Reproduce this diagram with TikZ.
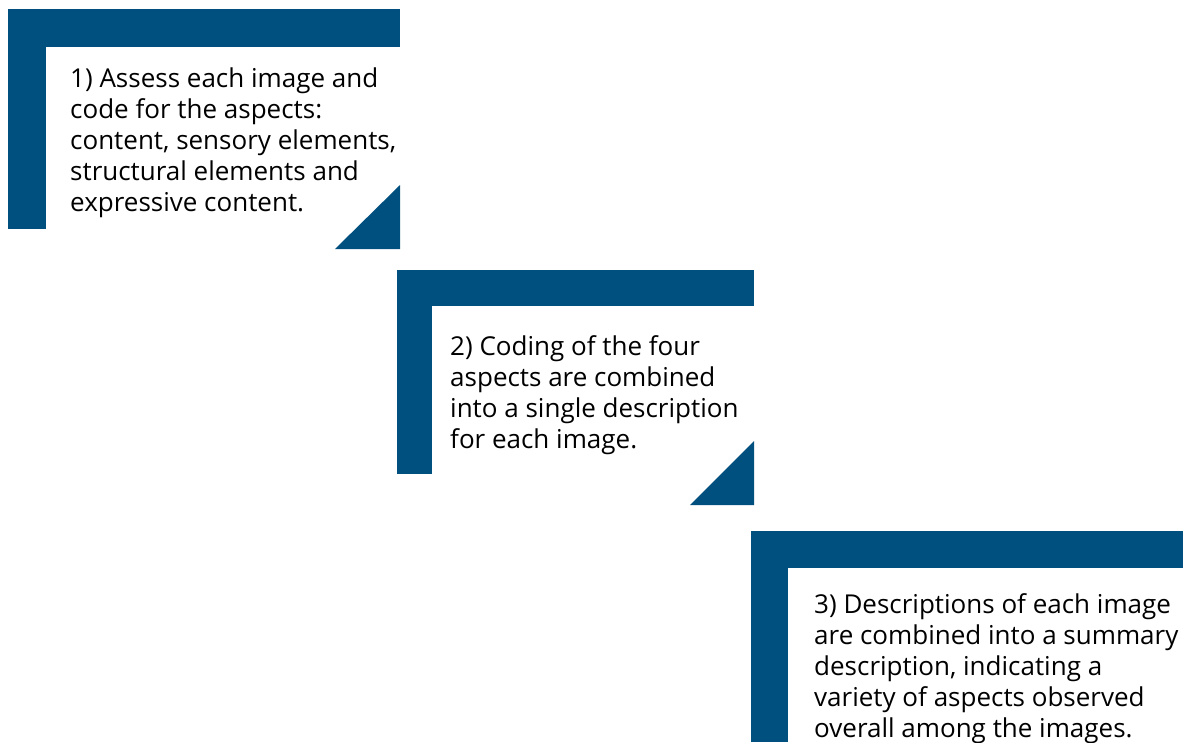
\documentclass[tikz,border=0pt]{standalone}
\usepackage{fontspec}
\setmainfont{Open Sans}
\usepackage{xcolor}
\definecolor{stepblue}{HTML}{00507F}

\begin{document}
\begin{tikzpicture}[x=1pt,y=-1pt,
  stepbar/.style={fill=stepblue},
  steptext/.style={anchor=base west,inner sep=0pt,align=left,font=\fontsize{26}{31}\selectfont}]
  \useasboundingbox[fill=white] (0,0) rectangle (1183,742);
  % step 1
  \fill[stepbar] (8,9) rectangle (400,47);
  \fill[stepbar] (8,9) rectangle (46,229);
  \fill[stepbar] (335,249) -- (400,249) -- (400,185) -- cycle;
  \node[steptext] (step1) at (70,211) {1) Assess each image and\\code for the aspects:\\content, sensory elements,\\structural elements and\\expressive content.};
  % step 2
  \fill[stepbar] (397,270) rectangle (754,306);
  \fill[stepbar] (397,270) rectangle (432,474);
  \fill[stepbar] (690,505) -- (754,505) -- (754,441) -- cycle;
  \node[steptext] (step2) at (450,448) {2) Coding of the four\\aspects are combined\\into a single description\\for each image.};
  % step 3
  \fill[stepbar] (751,531) rectangle (1183,568);
  \fill[stepbar] (751,531) rectangle (788,742);
  \node[steptext] (step3) at (814,737) {3) Descriptions of each image\\are combined into a summary\\description, indicating a\\variety of aspects observed\\overall among the images.};
\end{tikzpicture}
\end{document}
